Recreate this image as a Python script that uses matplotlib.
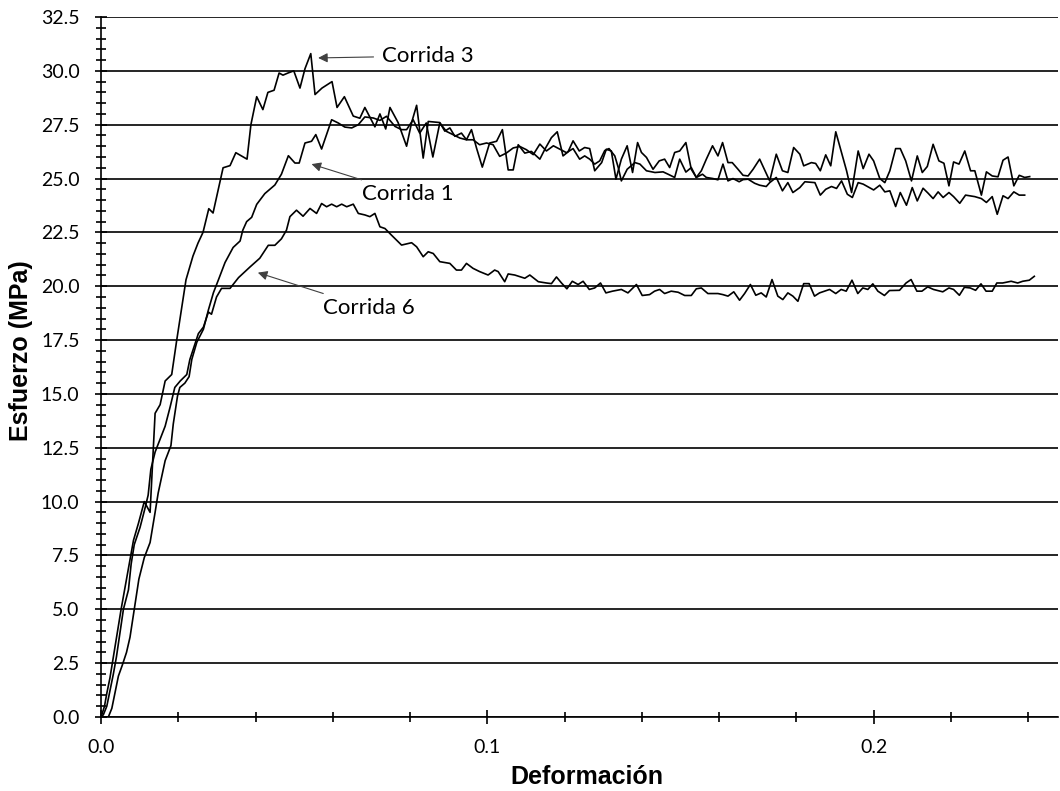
import matplotlib
matplotlib.use("Agg")
import matplotlib.pyplot as plt
from matplotlib.ticker import MultipleLocator, FixedLocator, FormatStrFormatter

# Corrida 3
strain3 = [0.0, 0.0002, 0.0009, 0.0015, 0.0023, 0.0032, 0.0040, 0.0052, 0.0064, 0.0075,
           0.0084, 0.0097, 0.0112, 0.0127, 0.0140, 0.0153, 0.0166, 0.0183, 0.0196, 0.0220,
           0.0238, 0.0251, 0.0264, 0.0279, 0.0290, 0.0316, 0.0334, 0.0349, 0.0378, 0.0388,
           0.0403, 0.0419, 0.0432, 0.0448, 0.0461, 0.0471, 0.0484, 0.0499, 0.0515, 0.0528,
           0.0543, 0.0554, 0.0572, 0.0598, 0.0611, 0.0630, 0.0653, 0.0670, 0.0683, 0.0709,
           0.0722, 0.0737, 0.0748, 0.0769, 0.0791, 0.0804, 0.0817, 0.0834, 0.0847, 0.0877,
           0.0890, 0.0903, 0.0916, 0.0933, 0.0946, 0.0959, 0.0972, 0.0987, 0.1006, 0.1024,
           0.1039, 0.1054, 0.1067, 0.1080, 0.1097, 0.1114, 0.1136, 0.1149, 0.1166, 0.1181,
           0.1196, 0.1209, 0.1222, 0.1238, 0.1252, 0.1265, 0.1278, 0.1296, 0.1308, 0.1321,
           0.1333, 0.1347, 0.1362, 0.1376, 0.1389, 0.1399, 0.1412, 0.1429, 0.1445, 0.1459,
           0.1472, 0.1485, 0.1498, 0.1514, 0.1528, 0.1541, 0.1554, 0.1567, 0.1583, 0.1597,
           0.1609, 0.1623, 0.1634, 0.1649, 0.1662, 0.1675, 0.1688, 0.1705, 0.1731, 0.1748,
           0.1764, 0.1778, 0.1793, 0.1809, 0.1819, 0.1839, 0.1850, 0.1862, 0.1876, 0.1889,
           0.1902, 0.1917, 0.1930, 0.1943, 0.1960, 0.1973, 0.1988, 0.2000, 0.2016, 0.2029,
           0.2042, 0.2057, 0.2069, 0.2083, 0.2098, 0.2113, 0.2126, 0.2139, 0.2154, 0.2169,
           0.2182, 0.2195, 0.2207, 0.2221, 0.2236, 0.2251, 0.2262, 0.2279, 0.2292, 0.2307,
           0.2322, 0.2335, 0.2348, 0.2363, 0.2377, 0.2391, 0.2404]
stress3 = [0.0, 0.1, 0.5, 1.1, 1.8, 2.8, 3.7, 5.0, 6.2, 7.3,
           8.2, 9.0, 10.0, 9.5, 14.1, 14.5, 15.6, 15.9, 17.5, 20.3,
           21.4, 22.0, 22.5, 23.6, 23.4, 25.5, 25.6, 26.2, 25.9, 27.5,
           28.8, 28.2, 29.0, 29.1, 29.9, 29.8, 29.9, 30.0, 29.2, 30.1,
           30.8, 28.9, 29.2, 29.5, 28.3, 28.8, 27.9, 27.8, 28.3, 27.4,
           28.0, 27.3, 28.3, 27.6, 26.5, 27.6, 28.4, 25.95, 27.65, 27.6,
           27.2, 27.35, 26.96, 27.11, 26.8, 27.27, 26.42, 25.53, 26.65, 26.73,
           27.27, 25.4, 25.4, 26.57, 26.18, 26.26, 25.9, 26.36, 26.9, 27.17,
           26.05, 26.24, 26.75, 26.28, 26.44, 26.39, 25.36, 25.74, 26.36, 26.28,
           24.97, 25.9, 26.52, 25.28, 26.67, 26.21, 25.98, 25.43, 25.82, 25.90,
           25.51, 26.21, 26.28, 26.67, 25.43, 25.05, 25.36, 25.90, 26.52, 26.05,
           26.67, 25.74, 25.74, 25.43, 25.15, 25.12, 25.43, 25.9, 24.89, 26.13,
           25.36, 25.28, 26.44, 26.13, 25.59, 25.74, 25.70, 25.36, 26.10, 25.59,
           27.17, 26.21, 25.36, 24.35, 26.28, 25.46, 26.13, 25.82, 25.0, 24.81,
           25.36, 26.39, 26.39, 25.82, 24.89, 26.05, 25.28, 25.56, 26.59, 25.82,
           25.71, 24.66, 25.77, 25.67, 26.28, 25.36, 25.36, 24.23, 25.31, 25.12,
           25.08, 25.85, 26.0, 24.66, 25.15, 25.05, 25.09]

# Corrida 1
strain1 = [0.0, 0.0019, 0.0028, 0.0036, 0.0045, 0.0055, 0.0066, 0.0075, 0.0086, 0.0098,
           0.0112, 0.0127, 0.0140, 0.0148, 0.0166, 0.0181, 0.0187, 0.0198, 0.0204, 0.0217,
           0.0228, 0.0235, 0.0248, 0.0265, 0.0278, 0.0291, 0.0304, 0.0321, 0.0342, 0.0360,
           0.0367, 0.0377, 0.0390, 0.0403, 0.0424, 0.0450, 0.0467, 0.0485, 0.0502, 0.0513,
           0.0528, 0.0545, 0.0556, 0.0571, 0.0597, 0.0614, 0.0631, 0.0649, 0.0666, 0.0683,
           0.0705, 0.0722, 0.0739, 0.0761, 0.0778, 0.0791, 0.0808, 0.0825, 0.0842, 0.0859,
           0.0877, 0.0894, 0.0911, 0.0929, 0.0946, 0.0963, 0.0980, 0.0998, 0.1015, 0.1032,
           0.1049, 0.1067, 0.1084, 0.1101, 0.1119, 0.1136, 0.1153, 0.1171, 0.1188, 0.1205,
           0.1222, 0.1239, 0.1252, 0.1265, 0.1278, 0.1291, 0.1304, 0.1315, 0.1330, 0.1339,
           0.1347, 0.1362, 0.1382, 0.1395, 0.1412, 0.1434, 0.1455, 0.1468, 0.1485, 0.1498,
           0.1514, 0.1528, 0.1541, 0.1557, 0.1567, 0.1584, 0.1597, 0.1610, 0.1623, 0.1636,
           0.1652, 0.1662, 0.1675, 0.1692, 0.1705, 0.1722, 0.1731, 0.1748, 0.1764, 0.1778,
           0.1791, 0.1809, 0.1822, 0.1848, 0.1862, 0.1876, 0.1891, 0.1904, 0.1917, 0.1932,
           0.1945, 0.1960, 0.1973, 0.2000, 0.2016, 0.2029, 0.2042, 0.2057, 0.2069, 0.2085,
           0.2100, 0.2113, 0.2128, 0.2141, 0.2154, 0.2167, 0.2180, 0.2195, 0.2207, 0.2223,
           0.2238, 0.2262, 0.2279, 0.2292, 0.2307, 0.2320, 0.2335, 0.2348, 0.2363, 0.2377,
           0.2391]
stress1 = [0.0, 0.0, 0.4, 1.1, 1.9, 2.4, 3.0, 3.7, 5.0, 6.4,
           7.4, 8.1, 9.5, 10.4, 11.9, 12.6, 13.6, 14.9, 15.3, 15.5,
           15.8, 16.6, 17.4, 18.0, 18.9, 19.7, 20.3, 21.1, 21.8, 22.1,
           22.6, 23.0, 23.2, 23.8, 24.3, 24.7, 25.2, 26.06, 25.72, 25.72,
           26.65, 26.73, 27.04, 26.37, 27.73, 27.58, 27.39, 27.35, 27.5, 27.86,
           27.81, 27.7, 27.89, 27.42, 27.27, 27.27, 27.73, 27.11, 27.58, 26.0,
           27.58, 27.19, 27.04, 26.88, 26.8, 26.8, 26.57, 26.65, 26.57, 26.03,
           26.18, 26.42, 26.49, 26.34, 26.11, 26.6, 26.28, 26.52, 26.36, 26.2,
           26.39, 25.9, 26.05, 25.9, 25.67, 25.82, 26.3, 26.39, 26.05, 25.51,
           24.89, 25.43, 25.74, 25.67, 25.36, 25.28, 25.31, 25.2, 25.05, 25.9,
           25.3, 25.51, 25.05, 25.2, 25.05, 25.0, 24.94, 25.67, 24.89, 25.0,
           24.85, 24.95, 24.97, 24.78, 24.69, 24.63, 24.81, 25.05, 24.43, 24.81,
           24.35, 24.58, 24.85, 24.81, 24.23, 24.50, 24.63, 24.54, 24.89, 24.27,
           24.12, 24.81, 24.74, 24.47, 24.69, 24.38, 24.43, 23.70, 24.35, 23.76,
           24.58, 23.96, 24.55, 24.32, 24.07, 24.38, 24.12, 24.35, 24.16, 23.85,
           24.23, 24.16, 24.07, 23.89, 24.16, 23.34, 24.20, 24.07, 24.38, 24.23,
           24.23]

# Corrida 6
strain6 = [0.0, 0.0006, 0.0015, 0.0023, 0.0032, 0.0040, 0.0049, 0.0058, 0.0071, 0.0078,
           0.0086, 0.0101, 0.0114, 0.0122, 0.0129, 0.0140, 0.0153, 0.0166, 0.0179, 0.0191,
           0.0205, 0.0222, 0.0230, 0.0252, 0.0265, 0.0278, 0.0286, 0.0299, 0.0312, 0.0334,
           0.0347, 0.0356, 0.0386, 0.0411, 0.0433, 0.0450, 0.0467, 0.0480, 0.0489, 0.0506,
           0.0523, 0.0541, 0.0558, 0.0571, 0.0584, 0.0597, 0.0610, 0.0623, 0.0636, 0.0653,
           0.0666, 0.0683, 0.0696, 0.0709, 0.0722, 0.0735, 0.0752, 0.0778, 0.0804, 0.0817,
           0.0834, 0.0847, 0.0860, 0.0877, 0.0903, 0.0920, 0.0933, 0.0946, 0.0963, 0.0980,
           0.1002, 0.1019, 0.1028, 0.1045, 0.1054, 0.1071, 0.1097, 0.1110, 0.1132, 0.1153,
           0.1166, 0.1179, 0.1192, 0.1206, 0.1220, 0.1235, 0.1248, 0.1264, 0.1278, 0.1293,
           0.1307, 0.1324, 0.1347, 0.1364, 0.1386, 0.1401, 0.1420, 0.1433, 0.1446, 0.1459,
           0.1476, 0.1494, 0.1511, 0.1528, 0.1541, 0.1554, 0.1571, 0.1597, 0.1610, 0.1623,
           0.1638, 0.1653, 0.1666, 0.1681, 0.1695, 0.1709, 0.1722, 0.1737, 0.1752, 0.1765,
           0.1778, 0.1791, 0.1804, 0.1819, 0.1833, 0.1847, 0.1860, 0.1886, 0.1902, 0.1916,
           0.1929, 0.1944, 0.1959, 0.1972, 0.1985, 0.1998, 0.2011, 0.2028, 0.2041, 0.2067,
           0.2084, 0.2097, 0.2112, 0.2125, 0.2140, 0.2155, 0.2179, 0.2195, 0.2207, 0.2222,
           0.2235, 0.2250, 0.2264, 0.2278, 0.2291, 0.2307, 0.2319, 0.2334, 0.2356, 0.2373,
           0.2386, 0.2403, 0.2416]
stress6 = [0.0, 0.1, 0.5, 1.2, 2.0, 2.8, 3.9, 5.0, 5.9, 7.1,
           8.0, 8.8, 9.7, 10.3, 11.5, 12.3, 12.9, 13.5, 14.4, 15.3,
           15.6, 15.9, 16.6, 17.8, 18.1, 18.8, 18.7, 19.5, 19.9, 19.9,
           20.2, 20.4, 20.9, 21.3, 21.9, 21.9, 22.2, 22.6, 23.23, 23.53,
           23.25, 23.61, 23.38, 23.84, 23.69, 23.81, 23.69, 23.81, 23.69, 23.81,
           23.38, 23.31, 23.23, 23.38, 22.76, 22.68, 22.37, 21.91, 22.02, 21.83,
           21.37, 21.6, 21.52, 21.14, 21.06, 20.75, 20.75, 21.06, 20.83, 20.68,
           20.52, 20.75, 20.68, 20.21, 20.57, 20.52, 20.37, 20.52, 20.21, 20.15,
           20.12, 20.43, 20.15, 19.88, 20.23, 20.08, 20.23, 19.85, 19.92, 20.15,
           19.69, 19.77, 19.85, 19.69, 20.08, 19.57, 19.61, 19.77, 19.85, 19.66,
           19.77, 19.72, 19.57, 19.57, 19.88, 19.92, 19.66, 19.66, 19.61, 19.54,
           19.74, 19.35, 19.66, 20.08, 19.58, 19.69, 19.5, 20.31, 19.54, 19.38,
           19.69, 19.54, 19.3, 20.12, 20.12, 19.54, 19.69, 19.85, 19.66, 19.85,
           19.77, 20.28, 19.66, 19.92, 19.85, 20.11, 19.77, 19.57, 19.8, 19.81,
           20.15, 20.31, 19.77, 19.77, 19.97, 19.85, 19.74, 19.92, 19.85, 19.58,
           19.95, 19.92, 19.81, 20.11, 19.77, 19.77, 20.15, 20.15, 20.23, 20.15,
           20.23, 20.28, 20.46]

labels = ["Corrida 3", "Corrida 1", "Corrida 6"]
label_xy = [(0.0727, 30.69), (0.0675, 24.27), (0.0574, 18.99)]
arrow_tip = [(0.0562, 30.6), (0.0545, 25.67), (0.0406, 20.63)]

fig = plt.figure(figsize=(10.6, 7.91), dpi=100)
ax = fig.add_axes([0.0953, 0.0936, 0.9027, 0.8849])

for x, y in [(strain3, stress3), (strain1, stress1), (strain6, stress6)]:
    ax.plot(x, y, color="black", lw=1.2, zorder=3)

for txt, (tx, ty), (ax_, ay) in zip(labels, label_xy, arrow_tip):
    ax.annotate(txt, xy=(ax_, ay), xytext=(tx, ty), family="Lato", fontsize=16,
                va="center", ha="left",
                arrowprops=dict(arrowstyle="-|>", color="0.25", lw=0.8,
                                mutation_scale=14, shrinkA=4, shrinkB=0))

ax.set_xlim(0, 0.2477)
ax.set_ylim(0, 32.5)
ax.xaxis.set_major_locator(FixedLocator([0.0, 0.1, 0.2]))
ax.xaxis.set_major_formatter(FormatStrFormatter("%.1f"))
ax.xaxis.set_minor_locator(MultipleLocator(0.02))
ax.yaxis.set_major_locator(MultipleLocator(2.5))
ax.yaxis.set_major_formatter(FormatStrFormatter("%.1f"))
ax.yaxis.set_minor_locator(MultipleLocator(0.5))

ax.tick_params(axis="both", which="both", direction="inout", color="black", width=1.2)
ax.tick_params(axis="x", which="major", length=10, pad=11, labelsize=14)
ax.tick_params(axis="x", which="minor", length=7.5)
ax.tick_params(axis="y", which="major", length=9, pad=11, labelsize=14)
ax.tick_params(axis="y", which="minor", length=7.5)
for lab in ax.get_xticklabels() + ax.get_yticklabels():
    lab.set_family("Lato")

ax.yaxis.grid(True, which="major", color="black", lw=1.2)
ax.set_axisbelow(True)
ax.spines["right"].set_visible(False)
ax.spines["top"].set_visible(False)
ax.spines["left"].set_linewidth(1.2)
ax.spines["bottom"].set_linewidth(1.2)

ax.set_xlabel("Deformación", family="Liberation Sans", fontweight="bold", fontsize=18)
ax.set_ylabel("Esfuerzo (MPa)", family="Liberation Sans", fontweight="bold", fontsize=18)
ax.xaxis.set_label_coords(0.508, -0.068)
ax.yaxis.set_label_coords(-0.071, 0.524)

fig.savefig("out.png", dpi=100)
